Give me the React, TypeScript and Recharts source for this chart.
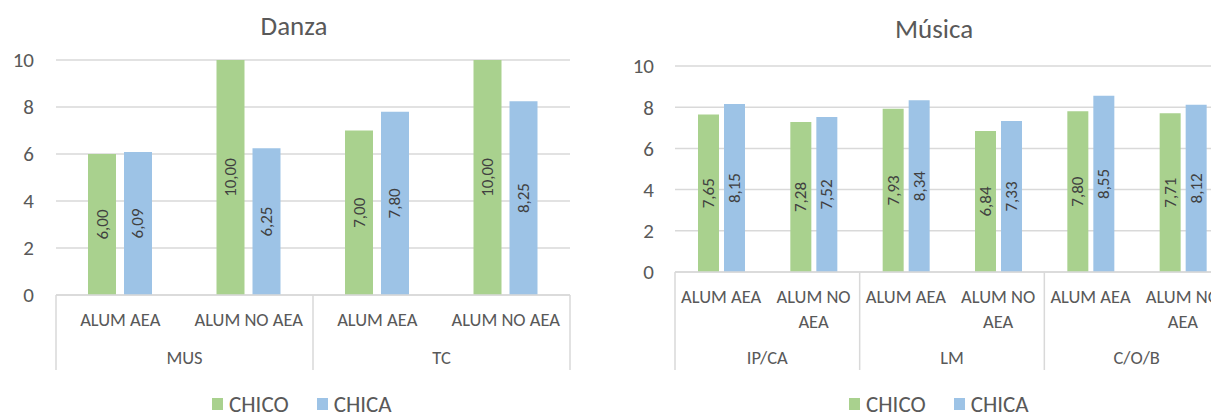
import React from "react";
import { Bar, BarChart, CartesianGrid, LabelList, XAxis, YAxis } from "recharts";

const GREEN = "#a9d18e";
const BLUE = "#9dc3e6";
const TEXT = "#595959";
const GRID = "#d9d9d9";
const FONT = "Carlito, Roboto, sans-serif";

// Danza
const danzaGroups = ["MUS", "TC"];
const danzaCats = ["ALUM AEA", "ALUM NO AEA", "ALUM AEA", "ALUM NO AEA"];
const danzaChico = [6.0, 10.0, 7.0, 10.0];
const danzaChica = [6.09, 6.25, 7.8, 8.25];

// Música
const musicaGroups = ["IP/CA", "LM", "C/O/B"];
const musicaCats = ["ALUM AEA", "ALUM NO AEA", "ALUM AEA", "ALUM NO AEA", "ALUM AEA", "ALUM NO AEA"];
const musicaChico = [7.65, 7.28, 7.93, 6.84, 7.8, 7.71];
const musicaChica = [8.15, 7.52, 8.34, 7.33, 8.55, 8.12];

const yTicks = [0, 2, 4, 6, 8, 10];

const fmt = (v: number) => v.toFixed(2).replace(".", ",");

function rows(cats: string[], chico: number[], chica: number[]) {
  return cats.map((c, i) => ({ cat: c, chico: chico[i], chica: chica[i] }));
}

function CenterLabel(props: any) {
  const { x, y, width, height, value } = props;
  const cx = x + width / 2;
  const cy = y + height / 2;
  return (
    <text x={cx} y={cy} transform={`rotate(-90, ${cx}, ${cy})`} textAnchor="middle" dominantBaseline="central"
      fontSize={17} fill="#404040" fontFamily={FONT}>
      {fmt(Number(value))}
    </text>
  );
}

function makeTick(groups: string[], band: number, sepH: number, groupDy: number, wrap: boolean) {
  const per = 2;
  const total = groups.length * per;
  return (props: any) => {
    const { x, y, payload, index } = props;
    const label: string = payload.value;
    let lines = [label];
    if (wrap && label.length > 8) {
      const k = label.lastIndexOf(" ");
      lines = [label.slice(0, k), label.slice(k + 1)];
    }
    const left = x - band / 2;
    return (
      <g>
        {lines.map((l, i) => (
          <text key={i} x={x} y={y + 24 + i * 25} textAnchor="middle" dominantBaseline="central" fontSize={18.5} fill={TEXT} fontFamily={FONT}>
            {l}
          </text>
        ))}
        {index % per === 0 && (
          <>
            <line x1={left} x2={left} y1={y} y2={y + sepH} stroke={GRID} strokeWidth={1.5} />
            <text x={left + (band * per) / 2} y={y + groupDy} textAnchor="middle" dominantBaseline="central" fontSize={18.5} fill={TEXT} fontFamily={FONT}>
              {groups[index / per]}
            </text>
          </>
        )}
        {index === total - 1 && <line x1={x + band / 2} x2={x + band / 2} y1={y} y2={y + sepH} stroke={GRID} strokeWidth={1.5} />}
      </g>
    );
  };
}

function LegendBox({ left, top }: { left: number; top: number }) {
  const item = (color: string, name: string, gap: number) => (
    <span style={{ display: "inline-flex", alignItems: "center", marginRight: gap }}>
      <span style={{ width: 11, height: 12, background: color, marginRight: 6, display: "inline-block" }} />
      <span style={{ fontSize: 23, color: TEXT }}>{name}</span>
    </span>
  );
  return (
    <div style={{ position: "absolute", left, top, display: "flex", fontFamily: FONT, lineHeight: "26px" }}>
      {item(GREEN, "CHICO", 28)}
      {item(BLUE, "CHICA", 0)}
    </div>
  );
}

function Title({ text, cx, top }: { text: string; cx: number; top: number }) {
  return (
    <div style={{ position: "absolute", left: cx - 100, width: 200, top, textAlign: "center", fontSize: 27, lineHeight: "32px", color: TEXT, fontFamily: FONT }}>
      {text}
    </div>
  );
}

function Chart(props: {
  data: any[];
  groups: string[];
  width: number;
  top: number;
  right: number;
  yWidth: number;
  xHeight: number;
  groupDy: number;
  barSize: number;
  barGap: number;
  wrap: boolean;
  tickGap: number;
}) {
  const { data, groups, width, top, right, yWidth, xHeight, groupDy, barSize, barGap, wrap, tickGap } = props;
  const band = (width - right - yWidth) / data.length;
  return (
    <BarChart width={width} height={416} data={data} margin={{ top, right, bottom: 46, left: 0 }} barSize={barSize} barGap={barGap}>
      <CartesianGrid vertical={false} stroke={GRID} strokeWidth={1.5} />
      <YAxis domain={[0, 10]} ticks={yTicks} width={yWidth} axisLine={false} tickLine={false} tickSize={0} tickMargin={tickGap}
        tick={{ fontSize: 21, fill: TEXT, fontFamily: FONT }} />
      <XAxis dataKey="cat" height={xHeight} interval={0} tickLine={false} tickSize={0} tickMargin={0}
        axisLine={{ stroke: GRID, strokeWidth: 1.5 }} tick={makeTick(groups, band, xHeight, groupDy, wrap)} />
      <Bar dataKey="chico" fill={GREEN} isAnimationActive={false}>
        <LabelList dataKey="chico" content={CenterLabel} />
      </Bar>
      <Bar dataKey="chica" fill={BLUE} isAnimationActive={false}>
        <LabelList dataKey="chica" content={CenterLabel} />
      </Bar>
    </BarChart>
  );
}

export default function App() {
  return (
    <div style={{ position: "fixed", left: 0, top: 0, width: 1211, height: 416, overflow: "hidden", background: "#fff" }}>
      <Title text="Danza" cx={294} top={10} />
      <Title text="Música" cx={934} top={13} />
      <div style={{ position: "absolute", left: 0, top: 0 }}>
        <Chart data={rows(danzaCats, danzaChico, danzaChica)} groups={danzaGroups} width={600} top={60} right={30} yWidth={56}
          xHeight={75} groupDy={62} barSize={28} barGap={8} wrap={false} tickGap={22} />
      </div>
      <div style={{ position: "absolute", left: 600, top: 0 }}>
        <Chart data={rows(musicaCats, musicaChico, musicaChica)} groups={musicaGroups} width={640} top={66} right={11} yWidth={75}
          xHeight={98} groupDy={85} barSize={21} barGap={5} wrap={true} tickGap={21} />
      </div>
      <LegendBox left={212} top={391} />
      <LegendBox left={849} top={391} />
    </div>
  );
}
